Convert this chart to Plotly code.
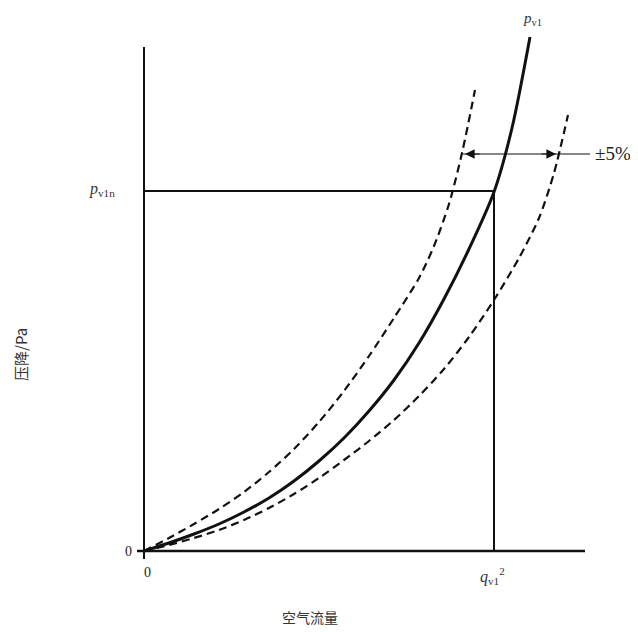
import plotly.graph_objects as go

# (arbitrary units; x = air flow, y = pressure drop)
flow_nominal = [0, 25, 50, 75, 100, 125, 150, 175, 200, 225, 250, 275, 300, 325, 350, 368, 386]
dp_nominal = [0, 8, 17, 27, 39, 53, 70, 90, 113, 140, 171, 208, 252, 302, 359, 423, 514]

flow_upper = [0, 25, 50, 75, 100, 125, 150, 175, 200, 225, 250, 275, 290, 305, 318, 331]
dp_upper = [0, 13, 27, 42, 59, 79, 102, 129, 160, 195, 233, 273, 305, 347, 398, 461]

flow_lower = [0, 25, 50, 75, 100, 125, 150, 175, 200, 225, 250, 275, 300, 325, 350, 375, 395, 410, 424]
dp_lower = [0, 6, 13, 21, 31, 43, 57, 73, 91, 110, 131, 155, 182, 214, 251, 293, 333, 378, 436]

q_ref = 350          # q_v1
p_ref = 360          # p_v1n
x_axis_end = 441
y_axis_end = 504
tol_level = 397      # level of the ±5% marker
tol_left = 321
tol_right = 412
tol_end = 446

tick_labels = {"p": "<i>p</i><sub>v1n</sub>", "q": "<i>q</i><sub>v1</sub><sup>2</sup>",
               "curve": "<i>p</i><sub>v1</sub>", "tol": "±5%"}
x_title = "空气流量"
y_title = "压降/Pa"

X0, X1 = -10, 484
Y0, Y1 = -10, 541


def px(x):
    return (x - X0) / (X1 - X0)


def py(y):
    return (y - Y0) / (Y1 - Y0)


ink = "#111111"
fig = go.Figure()
fig.add_trace(go.Scatter(x=flow_upper, y=dp_upper, mode="lines",
                         line=dict(color=ink, width=2.2, dash="8px,5px", shape="spline", smoothing=0.8)))
fig.add_trace(go.Scatter(x=flow_lower, y=dp_lower, mode="lines",
                         line=dict(color=ink, width=2.2, dash="8px,5px", shape="spline", smoothing=0.8)))
fig.add_trace(go.Scatter(x=flow_nominal, y=dp_nominal, mode="lines",
                         line=dict(color=ink, width=3, shape="spline", smoothing=0.8)))

# axes and reference lines
fig.add_shape(type="line", x0=-7, y0=0, x1=x_axis_end, y1=0, line=dict(color=ink, width=2.4))
fig.add_shape(type="line", x0=0, y0=-8, x1=0, y1=y_axis_end, line=dict(color=ink, width=2))
fig.add_shape(type="line", x0=0, y0=p_ref, x1=q_ref, y1=p_ref, line=dict(color=ink, width=2))
fig.add_shape(type="line", x0=q_ref, y0=0, x1=q_ref, y1=p_ref, line=dict(color=ink, width=2))
fig.add_shape(type="line", x0=tol_left - 2, y0=tol_level, x1=tol_end, y1=tol_level,
              line=dict(color=ink, width=1.2))

for head, tail in [(tol_left, tol_left + 16), (tol_right, tol_right - 16)]:
    fig.add_annotation(x=head, y=tol_level, ax=tail, ay=tol_level, axref="x", ayref="y",
                       xref="x", yref="y", text="", showarrow=True, arrowhead=2,
                       arrowsize=1.6, arrowwidth=1.2, arrowcolor=ink)

serif = "Liberation Serif, DejaVu Serif, serif"
cjk = "Noto Sans CJK SC, sans-serif"


def label(x, y, text, xanchor="center", yanchor="middle", font=None, angle=0):
    fig.add_annotation(x=px(x), y=py(y), xref="paper", yref="paper", text=text,
                       showarrow=False, xanchor=xanchor, yanchor=yanchor,
                       textangle=angle, font=font)


label(-10, 0, "0", xanchor="right", font=dict(family=serif, size=14, color="#222"))
label(3, -12, "0", yanchor="top", font=dict(family=serif, size=14, color="#222"))
label(-27, p_ref + 2, tick_labels["p"], xanchor="right", font=dict(family=serif, size=16, color="#333"))
label(q_ref - 2, -12, tick_labels["q"], yanchor="top", font=dict(family=serif, size=16, color="#333"))
label(388, 532, tick_labels["curve"], font=dict(family=serif, size=15, color="#333"))
label(449, tol_level + 1, tick_labels["tol"], xanchor="left",
      font=dict(family=serif, size=19, color="#222"))
label(166, -66, x_title, font=dict(family=cjk, size=14, color="#333"))
label(-124, 196, y_title, font=dict(family=cjk, size=15, color="#333"), angle=-90)

fig.update_layout(
    width=630, height=624,
    margin=dict(l=126, r=10, t=2, b=71, autoexpand=False),
    xaxis=dict(range=[X0, X1], visible=False, fixedrange=True),
    yaxis=dict(range=[Y0, Y1], visible=False, fixedrange=True),
    plot_bgcolor="white", paper_bgcolor="white", showlegend=False,
)
fig.write_html("out.html")
